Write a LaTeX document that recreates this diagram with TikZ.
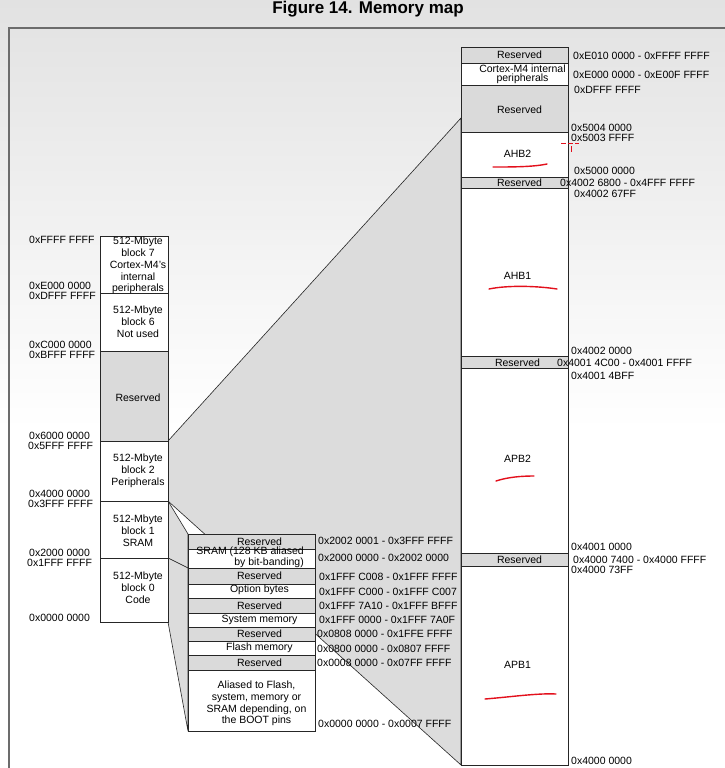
\documentclass[tikz,border=0pt]{standalone}
\usepackage{fontspec}
\setmainfont{Liberation Sans}
\usepackage{xcolor}
\usepackage{tikz}
\usetikzlibrary{backgrounds}
\definecolor{MMLine}{HTML}{262626}
\definecolor{MMGray}{HTML}{DADADA}
\definecolor{MMFan}{HTML}{DCDCDC}
\definecolor{MMFrame}{HTML}{6C6C6C}
\definecolor{MMShade}{HTML}{E2E2E2}
\definecolor{MMRed}{HTML}{E3101C}
\tikzset{
  mmbox/.style={draw=MMLine,line width=.9pt,fill=white,inner sep=0pt,outer sep=0pt,anchor=north west},
  mmres/.style={mmbox,fill=MMGray},
  leftcol/.style={minimum width=68pt},
  midcol/.style={minimum width=127pt},
  rightcol/.style={minimum width=107pt},
  boxtxt/.style={font=\fontsize{10.5}{11.8}\selectfont,align=center,inner sep=0pt},
  tighttxt/.style={font=\fontsize{10.5}{9}\selectfont,inner sep=0pt},
  addr/.style={font=\fontsize{10.5}{12}\selectfont,anchor=west,inner sep=0pt},
  fan/.style={fill=MMFan,draw=MMLine,line width=.6pt,line join=round},
  pen/.style={MMRed,line width=1.4pt,line cap=round}
}
\begin{document}
\begin{tikzpicture}[x=1pt,y=-1pt]
\path[use as bounding box] (0,0) rectangle (725,768);
\begin{scope}[on background layer]
\fill[white] (0,0) rectangle (725,768);
\shade[top color=MMShade,bottom color=white] (0,0) rectangle (725,430);
\draw[MMFrame,line width=1.3pt] (9,768) -- (9,28) -- (725,28);
\end{scope}
\node[font=\bfseries\fontsize{17}{20}\selectfont,inner sep=0pt] (title) at (368,9) {Figure 14. Memory map};

\node[mmbox,leftcol,minimum height=57pt] (b7) at (100,236) {};
\node[mmbox,leftcol,minimum height=58pt] (b6) at (100,293) {};
\node[mmres,leftcol,minimum height=90pt] (bres) at (100,351) {};
\node[mmbox,leftcol,minimum height=60pt] (b2) at (100,441) {};
\node[mmbox,leftcol,minimum height=57pt] (b1) at (100,501) {};
\node[mmbox,leftcol,minimum height=64pt] (b0) at (100,558) {};

\node[mmres,midcol,minimum height=15pt] (m1) at (188,534) {};
\node[mmbox,midcol,minimum height=19pt] (m2) at (188,549) {};
\node[mmres,midcol,minimum height=16pt] (m3) at (188,568) {};
\node[mmbox,midcol,minimum height=14pt] (m4) at (188,584) {};
\node[mmres,midcol,minimum height=15pt] (m5) at (188,598) {};
\node[mmbox,midcol,minimum height=14pt] (m6) at (188,613) {};
\node[mmres,midcol,minimum height=14pt] (m7) at (188,627) {};
\node[mmbox,midcol,minimum height=14pt] (m8) at (188,641) {};
\node[mmres,midcol,minimum height=15pt] (m9) at (188,655) {};
\node[mmbox,midcol,minimum height=61pt] (m10) at (188,670) {};

\node[mmres,rightcol,minimum height=16pt] (r1) at (461,47) {};
\node[mmbox,rightcol,minimum height=22pt] (r2) at (461,63) {};
\node[mmres,rightcol,minimum height=47pt] (r3) at (461,85) {};
\node[mmbox,rightcol,minimum height=45pt] (r4) at (461,132) {};
\node[mmres,rightcol,minimum height=11pt] (r5) at (461,177) {};
\node[mmbox,rightcol,minimum height=168pt] (r6) at (461,188) {};
\node[mmres,rightcol,minimum height=12pt] (r7) at (461,356) {};
\node[mmbox,rightcol,minimum height=185pt] (r8) at (461,368) {};
\node[mmres,rightcol,minimum height=13pt] (r9) at (461,553) {};
\node[mmbox,rightcol,minimum height=199pt] (r10) at (461,566) {};

\coordinate (fantop) at (461,118);
\begin{scope}[on background layer]
\path[fan] (b2.north east) -- (fantop) -- (r10.south west) -- (b2.south east) -- cycle;
\path[fan] (b1.north east) -- (m1.north west) -- (m2.south west) -- (b1.south east) -- cycle;
\path[fan] (b0.north east) -- (m3.north west) -- (m10.south west) -- (b0.south east) -- cycle;
\end{scope}

\node[boxtxt,xshift=4pt,yshift=-1pt] (b7t) at (b7) {512-Mbyte\\block 7\\Cortex-M4's\\internal\\peripherals};
\node[boxtxt,xshift=4pt] (b6t) at (b6) {512-Mbyte\\block 6\\Not used};
\node[boxtxt,xshift=4pt,yshift=-2pt] (brest) at (bres) {Reserved};
\node[boxtxt,xshift=4pt] (b2t) at (b2) {512-Mbyte\\block 2\\Peripherals};
\node[boxtxt,xshift=4pt,yshift=-1pt] (b1t) at (b1) {512-Mbyte\\block 1\\SRAM};
\node[boxtxt,xshift=4pt,yshift=2pt] (b0t) at (b0) {512-Mbyte\\block 0\\Code};

\node[boxtxt,xshift=8pt] (m1t) at (m1) {Reserved};
\node[tighttxt,align=right,anchor=east] (m2t) at (304,557.5) {SRAM (128 KB aliased\\by bit-banding)};
\node[boxtxt,xshift=8pt] (m3t) at (m3) {Reserved};
\node[boxtxt,xshift=8pt,yshift=1pt] (m4t) at (m4) {Option bytes};
\node[boxtxt,xshift=8pt] (m5t) at (m5) {Reserved};
\node[boxtxt,xshift=8pt] (m6t) at (m6) {System memory};
\node[boxtxt,xshift=8pt] (m7t) at (m7) {Reserved};
\node[boxtxt,xshift=8pt] (m8t) at (m8) {Flash memory};
\node[boxtxt,xshift=8pt] (m9t) at (m9) {Reserved};
\node[boxtxt,xshift=5pt,yshift=-3pt] (m10t) at (m10) {Aliased to Flash,\\system, memory or\\SRAM depending, on\\the BOOT pins};

\node[boxtxt,xshift=5pt] (r1t) at (r1) {Reserved};
\node[tighttxt,align=center,xshift=8pt] (r2t) at (r2) {Cortex-M4 internal\\peripherals};
\node[boxtxt,xshift=5pt,yshift=-1pt] (r3t) at (r3) {Reserved};
\node[boxtxt,xshift=3pt,yshift=1pt] (r4t) at (r4) {AHB2};
\node[boxtxt,xshift=5pt] (r5t) at (r5) {Reserved};
\node[boxtxt,xshift=3pt,yshift=-4pt] (r6t) at (r6) {AHB1};
\node[boxtxt,xshift=3pt,yshift=-1pt] (r7t) at (r7) {Reserved};
\node[boxtxt,xshift=3pt,yshift=2pt] (r8t) at (r8) {APB2};
\node[boxtxt,xshift=5pt] (r9t) at (r9) {Reserved};
\node[boxtxt,xshift=3pt,yshift=1pt] (r10t) at (r10) {APB1};

\node[addr] (a1) at (29,240) {0xFFFF FFFF};
\node[addr] (a2) at (29,286) {0xE000 0000};
\node[addr] (a3) at (29,296) {0xDFFF FFFF};
\node[addr] (a4) at (29,345) {0xC000 0000};
\node[addr] (a5) at (29,355) {0xBFFF FFFF};
\node[addr] (a6) at (29,436) {0x6000 0000};
\node[addr] (a7) at (28,446) {0x5FFF FFFF};
\node[addr] (a8) at (29,494) {0x4000 0000};
\node[addr] (a9) at (28,504) {0x3FFF FFFF};
\node[addr] (a10) at (29,553) {0x2000 0000};
\node[addr] (a11) at (27,563) {0x1FFF FFFF};
\node[addr] (a12) at (29,618) {0x0000 0000};

\node[addr] (c1) at (318,541) {0x2002 0001 - 0x3FFF FFFF};
\node[addr] (c2) at (318,558) {0x2000 0000 - 0x2002 0000};
\node[addr] (c3) at (319,577) {0x1FFF C008 - 0x1FFF FFFF};
\node[addr] (c4) at (319,592) {0x1FFF C000 - 0x1FFF C007};
\node[addr] (c5) at (319,606) {0x1FFF 7A10 - 0x1FFF BFFF};
\node[addr] (c6) at (319,620) {0x1FFF 0000 - 0x1FFF 7A0F};
\node[addr] (c7) at (317,634) {0x0808 0000 - 0x1FFE FFFF};
\node[addr] (c8) at (317,649) {0x0800 0000 - 0x0807 FFFF};
\node[addr] (c9) at (317,663) {0x0008 0000 - 0x07FF FFFF};
\node[addr] (c10) at (318,724) {0x0000 0000 - 0x0007 FFFF};

\node[addr] (e1) at (573,56) {0xE010 0000 - 0xFFFF FFFF};
\node[addr] (e2) at (573,75) {0xE000 0000 - 0xE00F FFFF};
\node[addr] (e3) at (574,90) {0xDFFF FFFF};
\node[addr] (e4) at (571,128) {0x5004 0000};
\node[addr] (e5) at (571,138) {0x5003 FFFF};
\node[addr] (e6) at (574,171) {0x5000 0000};
\node[addr] (e7) at (560,183) {0x4002 6800 - 0x4FFF FFFF};
\node[addr] (e8) at (574,194) {0x4002 67FF};
\node[addr] (e9) at (571,351) {0x4002 0000};
\node[addr] (e10) at (557,363) {0x4001 4C00 - 0x4001 FFFF};
\node[addr] (e11) at (571,376) {0x4001 4BFF};
\node[addr] (e12) at (571,547) {0x4001 0000};
\node[addr] (e13) at (573,560) {0x4000 7400 - 0x4000 FFFF};
\node[addr] (e14) at (571,570) {0x4000 73FF};
\node[addr] (e15) at (571,761) {0x4000 0000};

\draw[pen] (493,167) .. controls (512,167) and (533,167) .. (547,164);
\draw[pen] (489,289) .. controls (508,285) and (538,286) .. (557,289);
\draw[pen] (496,481) .. controls (508,477) and (522,476) .. (534,476);
\draw[pen] (485,699) .. controls (510,697) and (538,693) .. (556,694);
\draw[MMRed,line width=.8pt,dash pattern=on 5pt off 2pt] (561,143) -- (579,143);
\draw[MMRed,line width=.8pt] (571,146) -- (571,152);
\end{tikzpicture}
\end{document}
